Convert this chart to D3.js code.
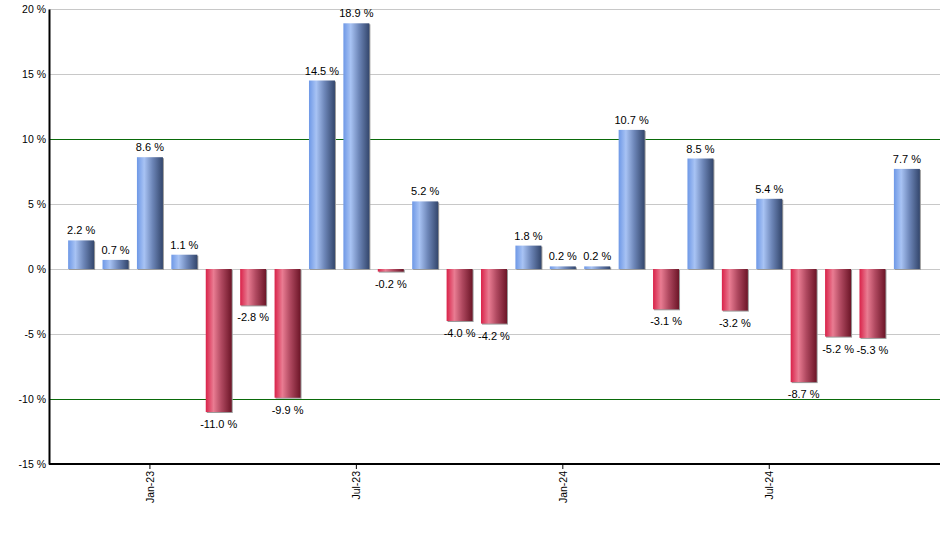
<!DOCTYPE html>
<html><head><meta charset="utf-8">
<script src="https://cdn.jsdelivr.net/npm/d3@7"></script>
<style>body{margin:0;background:#fff}svg{display:block}text{font-family:"Liberation Sans",Arial,sans-serif}</style>
</head><body><svg id="c" width="940" height="550"></svg>
<script>
const months = ["Nov-22","Dec-22","Jan-23","Feb-23","Mar-23","Apr-23","May-23","Jun-23","Jul-23","Aug-23","Sep-23","Oct-23","Nov-23","Dec-23","Jan-24","Feb-24","Mar-24","Apr-24","May-24","Jun-24","Jul-24","Aug-24","Sep-24","Oct-24","Nov-24"];
const values = [2.2,0.7,8.6,1.1,-11.0,-2.8,-9.9,14.5,18.9,-0.2,5.2,-4.0,-4.2,1.8,0.2,0.2,10.7,-3.1,8.5,-3.2,5.4,-8.7,-5.2,-5.3,7.7];
const tickMonths = ["Jan-23","Jul-23","Jan-24","Jul-24"];
const yTicks = [20,15,10,5,0,-5,-10,-15];
const strongLines = [10,-10];

(function(){
const svg = d3.select("#c");
const pLeft = 49, pRight = 940, pTop = 9, pBottom = 464;
const y = d3.scaleLinear().domain([-15,20]).range([pBottom, pTop]);
const x = d3.scaleBand().domain(months).range([64, 924]).paddingInner(0.245).paddingOuter(0.12);

const defs = svg.append("defs");
function grad(id, stops){
  const g = defs.append("linearGradient").attr("id", id).attr("x1","0").attr("x2","1").attr("y1","0").attr("y2","0");
  stops.forEach(s => g.append("stop").attr("offset", s[0]).attr("stop-color", s[1]));
}
grad("gBlue", [[0,"#6e98e6"],[0.28,"#a8c3f4"],[0.6,"#6d86b8"],[1,"#33466c"]]);
grad("gRed", [[0,"#d92249"],[0.3,"#e97c92"],[0.6,"#b04960"],[1,"#6c1527"]]);

svg.append("g").selectAll("line").data(yTicks.filter(t => t > -15)).join("line")
  .attr("x1", pLeft).attr("x2", pRight)
  .attr("y1", d => Math.round(y(d)) + 0.5).attr("y2", d => Math.round(y(d)) + 0.5)
  .attr("stroke", d => strongLines.includes(d) ? "#0a6a0a" : "#c8c8c8").attr("stroke-width", 1);

const bars = svg.append("g");
bars.selectAll("rect.sh").data(values).join("rect").attr("class","sh")
  .attr("x", (d,i) => x(months[i]) + 1)
  .attr("y", d => Math.min(y(d), y(0)) + 1)
  .attr("width", x.bandwidth())
  .attr("height", d => Math.abs(y(d) - y(0)))
  .attr("fill", "#9a9a9a");
bars.selectAll("rect.b").data(values).join("rect").attr("class","b")
  .attr("x", (d,i) => x(months[i]))
  .attr("y", d => Math.min(y(d), y(0)))
  .attr("width", x.bandwidth())
  .attr("height", d => Math.abs(y(d) - y(0)))
  .attr("fill", d => d >= 0 ? "url(#gBlue)" : "url(#gRed)");

svg.append("g").selectAll("text").data(values).join("text")
  .attr("x", (d,i) => x(months[i]) + x.bandwidth()/2)
  .attr("y", d => d >= 0 ? y(d) - 6 : y(d) + 16)
  .attr("text-anchor", "middle").attr("font-size", 11).attr("fill", "#000")
  .text(d => d.toFixed(1) + " %");

const yAxis = d3.axisLeft(y).tickValues(yTicks).tickSize(0).tickPadding(3).tickFormat(d => d + " %");
const ga = svg.append("g").attr("transform", `translate(${pLeft},0)`).call(yAxis);
ga.select(".domain").attr("stroke","#000").attr("stroke-width",2);
ga.selectAll("text").attr("font-size",10.5).attr("fill","#000").attr("font-family","Liberation Sans, Arial, sans-serif");

const xAxis = d3.axisBottom(x).tickValues(tickMonths).tickSize(5).tickSizeOuter(0);
const gx = svg.append("g").attr("transform", `translate(0,${pBottom})`).call(xAxis);
gx.select(".domain").attr("d", `M${pLeft},0H${pRight}`).attr("stroke","#000").attr("stroke-width",2);
gx.selectAll(".tick line").attr("stroke","#000");
gx.selectAll("text").attr("font-size",10.5).attr("fill","#000").attr("font-family","Liberation Sans, Arial, sans-serif")
  .attr("transform","rotate(-90)").attr("text-anchor","end").attr("dx","-7").attr("dy","4").attr("y",0).attr("x",0);
})();
</script></body></html>
